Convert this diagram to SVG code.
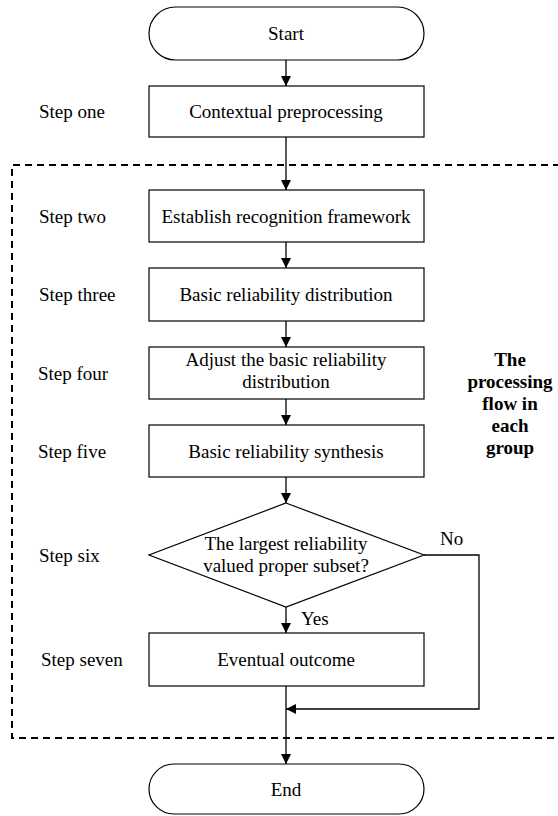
<svg xmlns="http://www.w3.org/2000/svg" width="558" height="816" viewBox="0 0 558 816">
<style>
text{font-family:'Liberation Serif','Tinos','Times New Roman','DejaVu Serif',serif;font-size:19px;fill:#000}
.c{text-anchor:middle}
.b{font-weight:bold}
.shape{fill:#fff;stroke:#000;stroke-width:1.2}
.conn{fill:none;stroke:#000;stroke-width:1.3}
.dash{fill:none;stroke:#000;stroke-width:2;stroke-dasharray:7 5}
</style>
<defs>
<marker id="arr" viewBox="0 0 10 10" refX="10" refY="5" markerWidth="10" markerHeight="10" markerUnits="userSpaceOnUse" orient="auto">
<path d="M0,0 L10,5 L0,10 Z" fill="#000"/>
</marker>
</defs>
<path class="dash" d="M560,165 H12 V738 H560"/>
<g id="connectors">
<line class="conn" x1="286" y1="60" x2="286" y2="86" marker-end="url(#arr)"/>
<line class="conn" x1="286" y1="137" x2="286" y2="190" marker-end="url(#arr)"/>
<line class="conn" x1="286" y1="242" x2="286" y2="268" marker-end="url(#arr)"/>
<line class="conn" x1="286" y1="321" x2="286" y2="347" marker-end="url(#arr)"/>
<line class="conn" x1="286" y1="399" x2="286" y2="425" marker-end="url(#arr)"/>
<line class="conn" x1="286" y1="477" x2="286" y2="503" marker-end="url(#arr)"/>
<line class="conn" x1="286" y1="607" x2="286" y2="633" marker-end="url(#arr)"/>
<line class="conn" x1="286" y1="686" x2="286" y2="764" marker-end="url(#arr)"/>
<path class="conn" d="M424,555 H479 V709 H286" marker-end="url(#arr)"/>
<text x="440" y="545" font-family="Liberation Serif, serif">No</text>
<text x="301" y="625" font-family="Liberation Serif, serif">Yes</text>
</g>
<g id="start"><rect class="shape" x="149" y="7" width="275" height="53" rx="26.5"/><text class="c" x="286" y="40">Start</text></g>
<g id="step1"><rect class="shape" x="149" y="86" width="275" height="51"/><text class="c" x="286" y="118">Contextual preprocessing</text><text x="39" y="118">Step one</text></g>
<g id="step2"><rect class="shape" x="149" y="190" width="275" height="52"/><text class="c" x="286" y="223">Establish recognition framework</text><text x="39" y="223">Step two</text></g>
<g id="step3"><rect class="shape" x="149" y="268" width="275" height="53"/><text class="c" x="286" y="301">Basic reliability distribution</text><text x="39" y="301">Step three</text></g>
<g id="step4"><rect class="shape" x="149" y="347" width="275" height="52"/><text class="c" x="286" y="366">Adjust the basic reliability</text><text class="c" x="286" y="388">distribution</text><text x="38" y="380">Step four</text></g>
<g id="step5"><rect class="shape" x="149" y="425" width="275" height="52"/><text class="c" x="286" y="458">Basic reliability synthesis</text><text x="38" y="458">Step five</text></g>
<g id="step6"><polygon class="shape" points="286,503 424,555 286,607 149,555"/><text class="c" x="286" y="550">The largest reliability</text><text class="c" x="286" y="572">valued proper subset?</text><text x="39" y="562">Step six</text></g>
<g id="step7"><rect class="shape" x="149" y="633" width="275" height="53"/><text class="c" x="286" y="666">Eventual outcome</text><text x="41" y="666">Step seven</text></g>
<g id="end"><rect class="shape" x="149" y="764" width="275" height="50" rx="25"/><text class="c" x="286" y="796">End</text></g>
<g id="group-label">
<text class="c b" x="510" y="366">The</text>
<text class="c b" x="510" y="388">processing</text>
<text class="c b" x="510" y="410">flow in</text>
<text class="c b" x="510" y="432">each</text>
<text class="c b" x="510" y="454">group</text>
</g>
</svg>
